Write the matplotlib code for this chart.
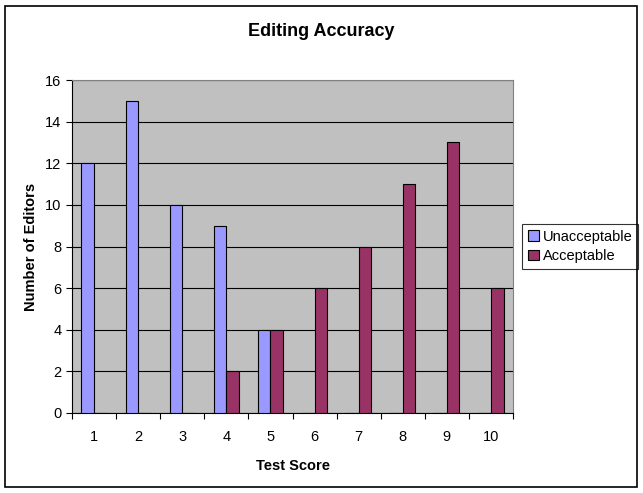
import matplotlib.pyplot as plt
import numpy as np
from matplotlib.patches import Rectangle

scores = [1, 2, 3, 4, 5, 6, 7, 8, 9, 10]
unacceptable = [12, 15, 10, 9, 4, 0, 0, 0, 0, 0]
acceptable = [0, 0, 0, 2, 4, 6, 8, 11, 13, 6]

plt.rcParams['font.family'] = ['Liberation Sans', 'DejaVu Sans']

fig = plt.figure(figsize=(6.43, 4.93), dpi=100)
ax = fig.add_axes([72/643, 80/493, 441/643, 333/493])

x = np.array(scores)
w = 1 / 3.5
ax.bar(x - w/2, unacceptable, width=w, color='#9999FF', edgecolor='black', linewidth=0.8,
       label='Unacceptable', zorder=3)
ax.bar(x + w/2, acceptable, width=w, color='#993366', edgecolor='black', linewidth=0.8,
       label='Acceptable', zorder=3)

ax.set_facecolor('#C0C0C0')
ax.set_xlim(0.5, 10.5)
ax.set_ylim(0, 16)
ax.set_yticks(range(0, 17, 2))
ax.yaxis.grid(True, color='black', linewidth=0.8, zorder=1)
ax.set_axisbelow(True)

ax.set_xticks(np.arange(0.5, 11, 1))
ax.set_xticklabels([])
ax.set_xticks(x, minor=True)
ax.set_xticklabels([str(s) for s in scores], minor=True)
ax.tick_params(axis='x', which='minor', length=0, pad=12, labelsize=10.5)
ax.tick_params(axis='x', which='major', length=4, direction='out')
ax.tick_params(axis='y', length=4, direction='out', labelsize=10.5)

for side in ['top', 'right']:
    ax.spines[side].set_color('#808080')
ax.spines['left'].set_color('black')
ax.spines['bottom'].set_color('black')

ax.set_xlabel('Test Score', fontsize=10.5, fontweight='bold', labelpad=11)
ax.set_ylabel('Number of Editors', fontsize=10.5, fontweight='bold', labelpad=5)
fig.text(321/643, 1 - 32/493, 'Editing Accuracy', ha='center', va='center',
         fontsize=13, fontweight='bold')

leg = ax.legend(loc='center left', bbox_to_anchor=(1.005, 0.5), frameon=True, fancybox=False,
                edgecolor='black', fontsize=10.5, handlelength=0.7, handleheight=0.7,
                handletextpad=0.3, borderpad=0.4, labelspacing=0.4, borderaxespad=0.5)
leg.get_frame().set_linewidth(0.8)

fig.patches.append(Rectangle((5/643, 6/493), 632/643, 481/493, transform=fig.transFigure,
                             fill=False, edgecolor='black', linewidth=1.2))

fig.savefig('out.png', dpi=100)
